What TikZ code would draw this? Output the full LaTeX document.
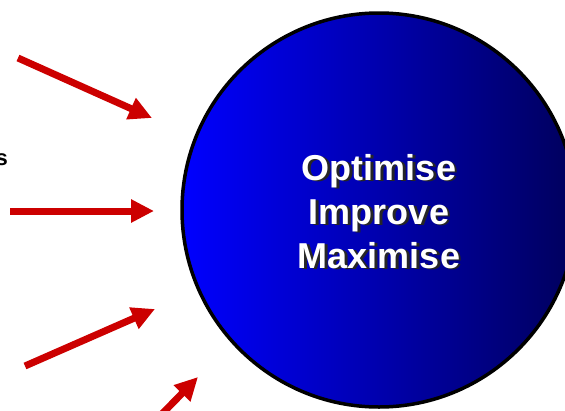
\documentclass[tikz,border=0pt]{standalone}
\usepackage{fontspec}
\setmainfont{Liberation Sans}
\usetikzlibrary{arrows.meta}
\definecolor{arrowred}{RGB}{204,0,0}
\definecolor{hubblue}{RGB}{0,0,255}
\definecolor{hubnavy}{RGB}{0,0,92}
\tikzset{
  redarrow/.style={draw=arrowred, line width=7pt,
    -{Triangle[width=22pt,length=23pt]}},
  hubtext/.style={align=center, font=\fontsize{36}{44}\selectfont\bfseries}
}
\begin{document}
\begin{tikzpicture}[x=1pt,y=-1pt]
  \useasboundingbox (0,0) rectangle (565,410);
  \clip (0,0) rectangle (565,410);

  % the big circle
  \node[circle, minimum size=394pt, inner sep=0pt, draw=black, line width=3.5pt,
    left color=hubblue, right color=hubnavy] (hub) at (379,210) {};
  \node[hubtext, text=black!85] (hubshadow) at ([xshift=2.5pt,yshift=-2.5pt]hub.center)
    {Optimise\\Improve\\Maximise};
  \node[hubtext, text=white] (hublabel) at ([yshift=-2pt]hub.center)
    {Optimise\\Improve\\Maximise};

  % cut off word on the left
  \node[anchor=south east, inner sep=0pt, font=\fontsize{22}{26}\selectfont\bfseries]
    (cutword) at (8,166) {s};

  % arrows pointing at the circle
  \foreach \i/\tx/\ty/\hx/\hy in {1/18/58/152/118,2/10/211/154/211,
                                  3/25/366/155/309,4/160/416/198/377}
  {
    \coordinate (tail\i) at (\tx,\ty);
    \coordinate (tip\i) at (\hx,\hy);
    \draw[redarrow] (tail\i) -- (tip\i);
  }
\end{tikzpicture}
\end{document}
